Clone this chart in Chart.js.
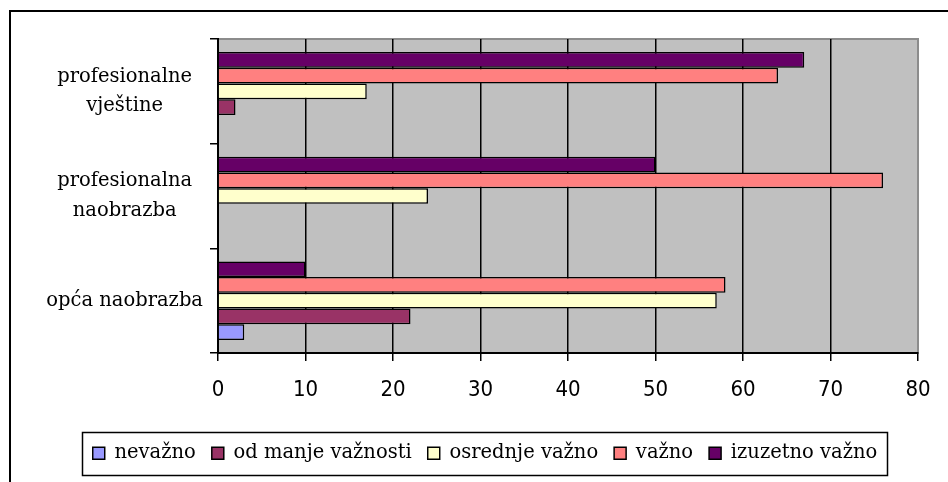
<!DOCTYPE html>
<html lang="hr">
<head>
    <meta charset="UTF-8">
    <title>Važnost</title>
    <script src="https://cdn.jsdelivr.net/npm/chart.js"></script>
    <style>
        body {
            margin: 0;
            padding: 0;
            background-color: #fff;
        }
        .frame {
            position: absolute;
            left: 9px;
            top: 10px;
            width: 960px;
            height: 500px;
            border-left: 2px solid #000;
            border-top: 2px solid #000;
        }
        .chartBox {
            position: absolute;
            left: 0;
            top: 0;
            width: 948px;
            height: 482px;
        }
    </style>
</head>
<body>
    <div class="frame"></div>
    <div class="chartBox">
        <canvas id="myChart" width="948" height="482"></canvas>
    </div>
    <script>
        // categories, top to bottom
        const categories = [['profesionalne', 'vještine'], ['profesionalna', 'naobrazba'], 'opća naobrazba'];

        // series values (same order as categories)
        const nevazno = [0, 0, 3];
        const odManjeVaznosti = [2, 0, 22];
        const osrednjeVazno = [17, 24, 57];
        const vazno = [64, 76, 58];
        const izuzetnoVazno = [67, 50, 10];

        const xTicks = [0, 10, 20, 30, 40, 50, 60, 70, 80];

        const serif = "'DejaVu Serif', 'Liberation Serif', serif";
        const narrow = "'Liberation Sans Narrow', 'DejaVu Sans Condensed', sans-serif";

        // grey plot background + light frame on top/right
        const plotBg = {
            id: 'plotBg',
            beforeDraw(chart) {
                const {ctx, chartArea: a} = chart;
                ctx.save();
                ctx.fillStyle = '#c0c0c0';
                ctx.fillRect(a.left, a.top, a.right - a.left, a.bottom - a.top);
                ctx.strokeStyle = '#8c8c8c';
                ctx.lineWidth = 2;
                ctx.strokeRect(a.left, a.top, a.right - a.left, a.bottom - a.top);
                ctx.restore();
            }
        };

        // legend sits a bit right of centre, with a box round it
        const legendBox = {
            id: 'legendBox',
            afterLayout(chart) {
                chart.legend.left += 20;
                chart.legend.right += 20;
            },
            afterDraw(chart) {
                const boxes = chart.legend.legendHitBoxes;
                if (!boxes || !boxes.length) return;
                const left = Math.min(...boxes.map(b => b.left));
                const right = Math.max(...boxes.map(b => b.left + b.width));
                const cy = boxes[0].top + boxes[0].height / 2;
                const ctx = chart.ctx;
                ctx.save();
                ctx.strokeStyle = '#000';
                ctx.lineWidth = 1.5;
                ctx.strokeRect(Math.round(left - 11) + 0.5, Math.round(cy - 21.5) + 0.5, Math.round(right - left + 20), 43);
                ctx.restore();
            }
        };

        const ctx = document.getElementById('myChart');

        const myChart = new Chart(ctx, {
            type: 'bar',
            data: {
                labels: categories,
                datasets: [
                    { label: 'izuzetno važno', data: izuzetnoVazno, backgroundColor: '#660066' },
                    { label: 'važno', data: vazno, backgroundColor: '#ff8080' },
                    { label: 'osrednje važno', data: osrednjeVazno, backgroundColor: '#ffffcc' },
                    { label: 'od manje važnosti', data: odManjeVaznosti, backgroundColor: '#993366' },
                    { label: 'nevažno', data: nevazno, backgroundColor: '#9999ff' }
                ]
            },
            options: {
                indexAxis: 'y',
                responsive: false,
                animation: false,
                devicePixelRatio: 1,
                layout: {
                    padding: { left: 12, right: 30, top: 39, bottom: 9 }
                },
                datasets: {
                    bar: {
                        borderColor: '#000',
                        borderWidth: 1.5,
                        categoryPercentage: 0.75,
                        barPercentage: 1.0
                    }
                },
                plugins: {
                    tooltip: { enabled: false },
                    legend: {
                        position: 'bottom',
                        reverse: true,
                        labels: {
                            boxWidth: 12,
                            boxHeight: 12,
                            padding: 16,
                            color: '#000',
                            font: { family: serif, size: 19.5 }
                        }
                    }
                },
                scales: {
                    x: {
                        min: 0,
                        max: 80,
                        afterFit: (scale) => { scale.height = 74.5; },
                        afterBuildTicks: (scale) => { scale.ticks = xTicks.map(v => ({ value: v })); },
                        border: { display: true, color: '#000', width: 2 },
                        grid: {
                            color: (c) => (c.tick && c.tick.value === 80) ? 'rgba(0,0,0,0)' : '#000',
                            tickColor: '#000',
                            lineWidth: 1.5,
                            drawTicks: true,
                            tickLength: 8
                        },
                        ticks: {
                            color: '#000',
                            padding: 16,
                            maxRotation: 0,
                            font: { family: narrow, size: 22 }
                        }
                    },
                    y: {
                        afterFit: (scale) => { scale.width = 206; },
                        border: { display: true, color: '#000', width: 2 },
                        grid: {
                            offset: true,
                            drawOnChartArea: false,
                            drawTicks: true,
                            tickLength: 8,
                            tickColor: '#000',
                            lineWidth: 1.5
                        },
                        ticks: {
                            color: '#000',
                            padding: 7,
                            crossAlign: 'center',
                            font: { family: serif, size: 19.5, lineHeight: 1.5 }
                        }
                    }
                }
            },
            plugins: [plotBg, legendBox]
        });
    </script>
</body>
</html>
